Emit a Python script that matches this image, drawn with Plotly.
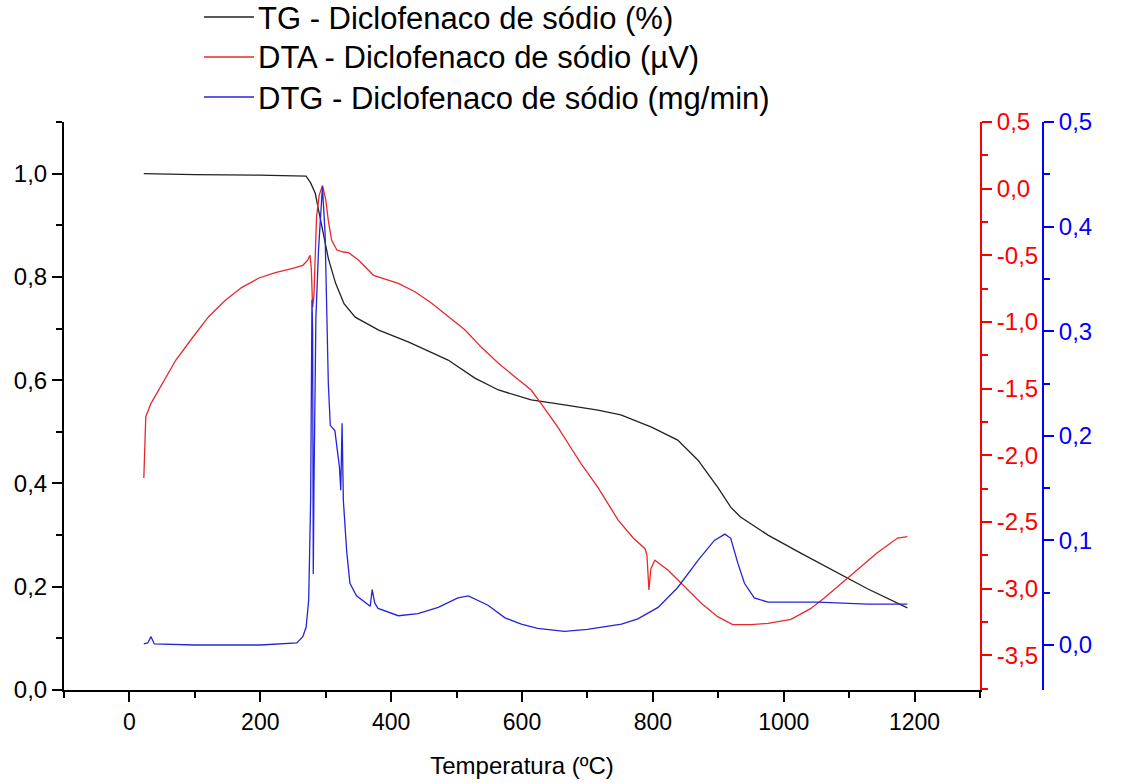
import plotly.graph_objects as go

# ---------------- data ----------------
tg_T = [22, 100, 198, 260, 270, 277, 284, 289, 297, 304, 315, 328, 345, 381, 426, 437,
        487, 528, 564, 614, 665, 716, 751, 798, 838, 869, 899, 919, 934, 976, 1026,
        1078, 1128, 1189]
tg_v = [1.0, 0.998, 0.997, 0.996, 0.995, 0.982, 0.962, 0.93, 0.882, 0.836, 0.788, 0.748,
        0.722, 0.697, 0.674, 0.668, 0.639, 0.604, 0.581, 0.562, 0.552, 0.542, 0.533,
        0.509, 0.484, 0.445, 0.393, 0.354, 0.335, 0.30, 0.265, 0.229, 0.196, 0.159]

dta_T = [22, 23, 25, 33, 45, 71, 96, 121, 147, 172, 198, 223, 248, 265, 272, 276, 278,
         280, 282, 286, 290, 295, 300, 304, 309, 317, 327, 335, 350, 373, 411, 437, 462,
         487, 513, 538, 564, 589, 614, 629, 655, 673, 690, 716, 747, 770, 788, 791, 794,
         797, 803, 823, 849, 874, 899, 922, 950, 976, 1011, 1041, 1062, 1102, 1143,
         1174, 1189]
dta_v = [-2.17, -1.95, -1.71, -1.61, -1.51, -1.285, -1.12, -0.96, -0.835, -0.74, -0.67,
         -0.63, -0.60, -0.575, -0.54, -0.50, -0.60, -0.89, -0.80, -0.21, -0.05, 0.025,
         -0.08, -0.24, -0.385, -0.46, -0.475, -0.48, -0.535, -0.65, -0.71, -0.775, -0.86,
         -0.96, -1.06, -1.19, -1.31, -1.41, -1.51, -1.61, -1.79, -1.93, -2.06, -2.24,
         -2.486, -2.62, -2.70, -2.75, -3.01, -2.85, -2.786, -2.86, -2.99, -3.11, -3.21,
         -3.27, -3.27, -3.26, -3.23, -3.15, -3.07, -2.90, -2.73, -2.62, -2.61]

dtg_T = [22, 28, 33, 38, 100, 200, 256, 265, 270, 274, 277, 279, 280, 281, 282, 285,
         289, 295, 299, 302, 304, 307, 314, 321, 323, 325, 327, 332, 337, 347, 365, 368,
         371, 375, 380, 411, 441, 472, 502, 518, 548, 574, 599, 624, 665, 700, 752, 777,
         808, 838, 869, 894, 910, 919, 930, 940, 955, 976, 1052, 1128, 1189]
dtg_v = [0.001, 0.002, 0.008, 0.001, 0.0, 0.0, 0.002, 0.008, 0.017, 0.043, 0.14, 0.33,
         0.30, 0.068, 0.15, 0.313, 0.378, 0.438, 0.394, 0.313, 0.25, 0.21, 0.205, 0.17,
         0.148, 0.212, 0.138, 0.09, 0.059, 0.047, 0.039, 0.037, 0.053, 0.04, 0.035,
         0.028, 0.030, 0.036, 0.045, 0.047, 0.038, 0.026, 0.020, 0.016, 0.013, 0.015,
         0.020, 0.025, 0.036, 0.055, 0.081, 0.100, 0.106, 0.102, 0.078, 0.059, 0.045,
         0.041, 0.041, 0.039, 0.039]

x_ticks = [0, 200, 400, 600, 800, 1000, 1200]
red_ticks = [0.5, 0.0, -0.5, -1.0, -1.5, -2.0, -2.5, -3.0, -3.5]
red_text = ["0,5", "0,0", "-0,5", "-1,0", "-1,5", "-2,0", "-2,5", "-3,0", "-3,5"]

names = ["TG - Diclofenaco de sódio (%)",
         "DTA - Diclofenaco de sódio (µV)",
         "DTG - Diclofenaco de sódio (mg/min)"]
colors = ["#222222", "#e8282a", "#2424dc"]

RED = "#ff0000"
BLUE = "#0000ff"
FONT = "Liberation Sans, Arial, sans-serif"

# layout geometry (pixels)
W, H = 1134, 783
ML, MR, MT, MB = 64, 91, 122, 93
PW = W - ML - MR
PH = H - MT - MB


def px_x(p):
    return (p - ML) / PW


def px_y(p):
    return (H - MB - p) / PH


fig = go.Figure()
fig.add_trace(go.Scatter(x=tg_T, y=tg_v, mode="lines", name=names[0],
                         line=dict(color=colors[0], width=1.3), yaxis="y"))
fig.add_trace(go.Scatter(x=dta_T, y=dta_v, mode="lines", name=names[1],
                         line=dict(color=colors[1], width=1.3), yaxis="y2"))
fig.add_trace(go.Scatter(x=dtg_T, y=dtg_v, mode="lines", name=names[2],
                         line=dict(color=colors[2], width=1.3), yaxis="y3"))

# manual legend (drawn outside the plot area, above it)
legend_rows = [17, 57, 97]
shapes = []
annotations = []
for nm, col, row in zip(names, colors, legend_rows):
    shapes.append(dict(type="line", xref="paper", yref="paper",
                       x0=px_x(204), x1=px_x(254), y0=px_y(row), y1=px_y(row),
                       line=dict(color=col, width=1.3)))
    annotations.append(dict(text=nm, xref="paper", yref="paper", x=px_x(256),
                            y=px_y(row + 1), xanchor="left", yanchor="middle",
                            showarrow=False,
                            font=dict(family=FONT, size=31, color="black")))

common = dict(showgrid=False, zeroline=False, showline=True, linewidth=2,
              ticks="outside", ticklen=10, tickwidth=2, automargin=False)

fig.update_layout(
    width=W, height=H, autosize=False,
    margin=dict(l=ML, r=MR, t=MT, b=MB),
    plot_bgcolor="white", paper_bgcolor="white",
    separators=",.",
    font=dict(family=FONT, size=24, color="black"),
    showlegend=False,
    shapes=shapes, annotations=annotations,
    xaxis=dict(domain=[0, (980 - ML) / PW], range=[-100, 1300], tickvals=x_ticks,
               linecolor="black", tickcolor="black",
               minor=dict(dtick=100, tick0=0, ticks="outside", ticklen=6,
                          tickwidth=2, tickcolor="black"),
               tickfont=dict(size=23),
               title=dict(text="Temperatura (ºC)", standoff=24,
                          font=dict(size=24)),
               **common),
    yaxis=dict(range=[0, 1.1], dtick=0.2, tick0=0, tickformat=".1f",
               linecolor="black", tickcolor="black",
               minor=dict(dtick=0.1, tick0=0, ticks="outside", ticklen=6,
                          tickwidth=2, tickcolor="black"),
               tickfont=dict(size=24), **common),
    yaxis2=dict(overlaying="y", side="right", anchor="x", range=[-3.76, 0.5],
                tickvals=red_ticks, ticktext=red_text,
                linecolor=RED, tickcolor=RED, tickfont=dict(size=24, color=RED),
                minor=dict(dtick=0.25, tick0=0, ticks="outside", ticklen=6,
                           tickwidth=2, tickcolor=RED),
                **common),
    yaxis3=dict(overlaying="y", side="right", anchor="free", position=1.0,
                range=[-0.043, 0.5], dtick=0.1, tick0=0, tickformat=".1f",
                linecolor=BLUE, tickcolor=BLUE, tickfont=dict(size=24, color=BLUE),
                minor=dict(dtick=0.05, tick0=0, ticks="outside", ticklen=6,
                           tickwidth=2, tickcolor=BLUE),
                **common),
)

fig.write_html("out.html", config={"displayModeBar": False},
               post_script="document.body.style.margin='0';"
                           "document.body.style.overflow='hidden';")
